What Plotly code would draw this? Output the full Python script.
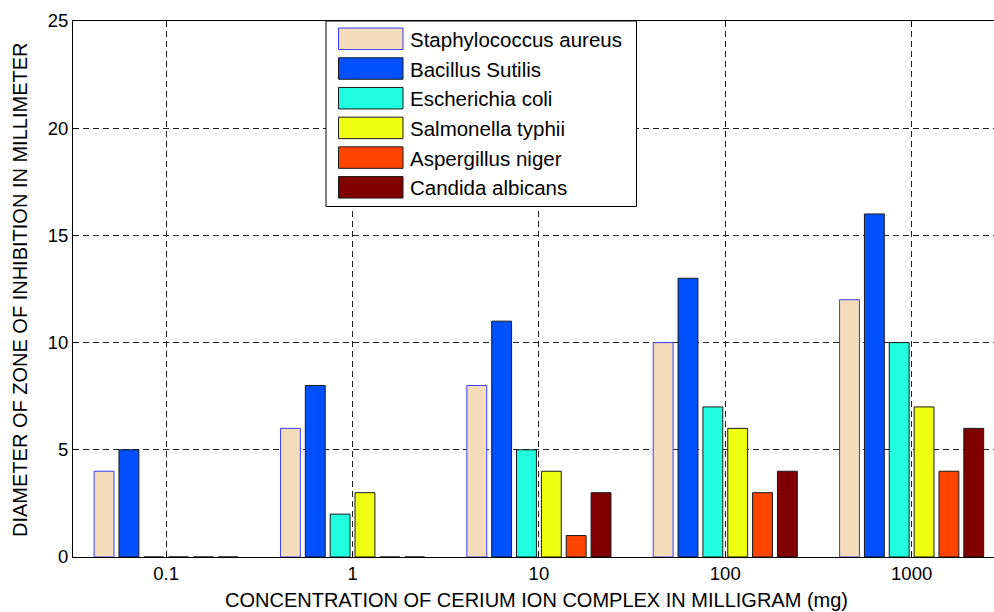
import plotly.graph_objects as go

# Concentration levels (mg) on the x axis
concentrations = ["0.1", "1", "10", "100", "1000"]

# Zone of inhibition diameter (mm) per organism
staphylococcus = [4, 6, 8, 10, 12]
bacillus = [5, 8, 11, 13, 16]
escherichia = [0, 2, 5, 7, 10]
salmonella = [0, 3, 4, 6, 7]
aspergillus = [0, 0, 1, 3, 4]
candida = [0, 0, 3, 4, 6]

names = ["Staphylococcus aureus", "Bacillus Sutilis", "Escherichia coli",
         "Salmonella typhii", "Aspergillus niger", "Candida albicans"]
series = [staphylococcus, bacillus, escherichia, salmonella, aspergillus, candida]
fills = ["#f2dcba", "#0050ff", "#20ffe0", "#eeff10", "#ff4400", "#800000"]
edges = ["#3c3cff", "#1a1a1a", "#1a1a1a", "#1a1a1a", "#1a1a1a", "#1a1a1a"]

y_ticks = [0, 5, 10, 15, 20, 25]

W, H = 994, 612
ML, MT, MB, MR = 73, 21, 55, 0
PW, PH = W - ML - MR, H - MT - MB
FONT = "Liberation Sans, Arial, Helvetica, sans-serif"


def px_x(x):
    return (x - ML) / PW


def px_y(y):
    return 1 - (y - MT) / PH


fig = go.Figure()
for name, vals, fc, ec in zip(names, series, fills, edges):
    fig.add_trace(go.Bar(
        x=concentrations, y=vals, name=name,
        marker=dict(color=fc, line=dict(color=ec, width=1)),
        showlegend=False,
    ))

# Boxed legend with wide colour swatches
shapes = [dict(type="rect", xref="paper", yref="paper",
               x0=px_x(326), x1=px_x(636.5), y0=px_y(206.5), y1=px_y(21),
               fillcolor="white", line=dict(color="black", width=1), layer="above")]
annotations = []
row0, pitch, sw_h = 38.8, 29.7, 21.5
for i, (name, fc, ec) in enumerate(zip(names, fills, edges)):
    cy = row0 + i * pitch
    shapes.append(dict(type="rect", xref="paper", yref="paper",
                       x0=px_x(338.5), x1=px_x(403), y0=px_y(cy + sw_h / 2), y1=px_y(cy - sw_h / 2),
                       fillcolor=fc, line=dict(color=ec, width=1),
                       layer="above"))
    annotations.append(dict(xref="paper", yref="paper", x=px_x(408), y=px_y(cy + 0.5),
                            text=name, showarrow=False, xanchor="left", yanchor="middle",
                            font=dict(family=FONT, size=20.5, color="black")))

# Axis titles
annotations.append(dict(xref="paper", yref="paper", x=px_x(536), y=px_y(612), yanchor="bottom",
                        xanchor="center", showarrow=False, borderpad=0,
                        text="CONCENTRATION OF CERIUM ION COMPLEX IN MILLIGRAM (mg)",
                        font=dict(family=FONT, size=20, color="black")))
annotations.append(dict(xref="paper", yref="paper", x=px_x(20), y=px_y(290), xanchor="center",
                        yanchor="middle", showarrow=False, textangle=-90,
                        text="DIAMETER OF ZONE OF INHIBITION IN MILLIMETER",
                        font=dict(family=FONT, size=20, color="black")))

fig.update_layout(
    width=W, height=H,
    margin=dict(l=ML, r=MR, t=MT, b=MB),
    paper_bgcolor="white", plot_bgcolor="white",
    barmode="group", bargap=0.2, bargroupgap=0.2,
    font=dict(family=FONT, size=18, color="black"),
    shapes=shapes, annotations=annotations,
    xaxis=dict(
        type="category", range=[-0.5, 4.442],
        showline=True, linecolor="black", linewidth=1, mirror="allticks",
        ticks="inside", ticklen=5, tickcolor="black",
        showgrid=True, gridcolor="#222222", gridwidth=1, griddash="6px,4px",
        tickfont=dict(family=FONT, size=18.5, color="black"),
    ),
    yaxis=dict(
        range=[0, 25], tickvals=y_ticks,
        showline=True, linecolor="black", linewidth=1,
        ticks="inside", ticklen=5, tickcolor="black",
        showgrid=True, gridcolor="#222222", gridwidth=1, griddash="6px,4px",
        zeroline=False,
        tickfont=dict(family=FONT, size=18.5, color="black"),
    ),
)

fig.write_html("out.html")
